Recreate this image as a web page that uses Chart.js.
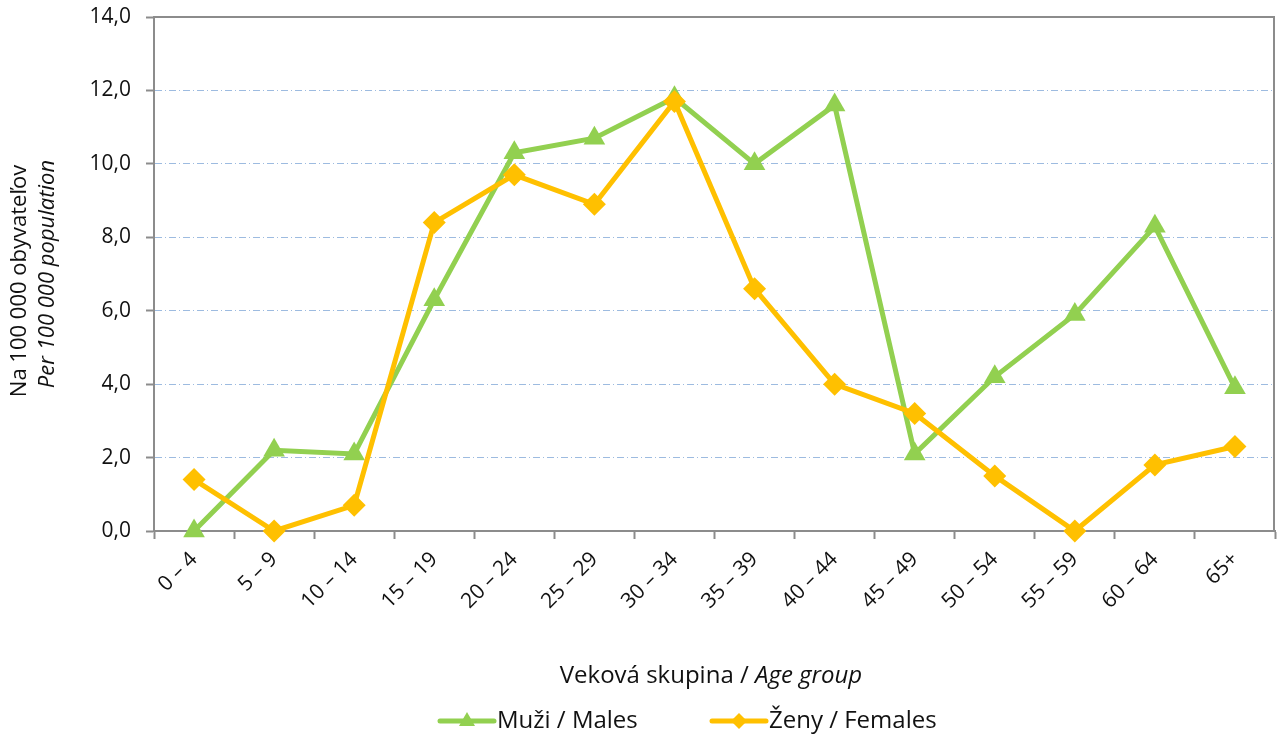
<!DOCTYPE html>
<html lang="sk">
  <head>
    <meta charset="UTF-8" />
    <title>Veková skupina</title>
    <style>
      html,
      body {
        margin: 0;
        padding: 0;
        background: #fff;
      }
      .chart-wrapper {
        position: relative;
        width: 1277px;
        height: 738px;
      }
    </style>
  </head>
  <body>
    <div class="chart-wrapper">
      <canvas id="chartAge"></canvas>
    </div>
    <script src="https://cdn.jsdelivr.net/npm/chart.js"></script>
    <script>
      const ageGroups = [
        "0 – 4", "5 – 9", "10 – 14", "15 – 19", "20 – 24", "25 – 29", "30 – 34",
        "35 – 39", "40 – 44", "45 – 49", "50 – 54", "55 – 59", "60 – 64", "65+",
      ];
      const males = [0.0, 2.2, 2.1, 6.3, 10.3, 10.7, 11.8, 10.0, 11.6, 2.1, 4.2, 5.9, 8.3, 3.9];
      const females = [1.4, 0.0, 0.7, 8.4, 9.7, 8.9, 11.7, 6.6, 4.0, 3.2, 1.5, 0.0, 1.8, 2.3];
      const yTicks = [0, 2, 4, 6, 8, 10, 12, 14];

      const yTitle = [
        [{ text: "Na 100 000 obyvateľov", italic: false }],
        [{ text: "Per 100 000 population", italic: true }],
      ];
      const xTitle = [
        { text: "Veková skupina / ", italic: false },
        { text: "Age group", italic: true },
      ];
      const legendItems = [
        { text: "Muži / Males", color: "#92d050", style: "triangle" },
        { text: "Ženy / Females", color: "#ffc000", style: "rectRot" },
      ];

      const GREEN = "#92d050";
      const YELLOW = "#ffc000";
      const AXIS = "#8c8c8c";
      const GRID = "#9dbbe0";
      const FONT = "'Open Sans', sans-serif";

      Chart.defaults.font.family = FONT;
      Chart.defaults.color = "#111";

      function fontStr(size, italic) {
        return (italic ? "italic " : "") + size + "px " + FONT;
      }

      // draws a line of text made of normal / italic pieces, centred on cx
      function drawParts(ctx, parts, cx, cy, size) {
        let total = 0;
        parts.forEach((p) => {
          ctx.font = fontStr(size, p.italic);
          total += ctx.measureText(p.text).width;
        });
        let x = cx - total / 2;
        ctx.textAlign = "left";
        ctx.textBaseline = "middle";
        parts.forEach((p) => {
          ctx.font = fontStr(size, p.italic);
          ctx.fillText(p.text, x, cy);
          x += ctx.measureText(p.text).width;
        });
      }

      const decor = {
        id: "decor",
        afterDraw(chart) {
          const { ctx, chartArea: a } = chart;
          ctx.save();

          // frame on top and right of the plot area
          ctx.strokeStyle = AXIS;
          ctx.lineWidth = 2;
          ctx.beginPath();
          ctx.moveTo(a.left, a.top);
          ctx.lineTo(a.right - 1, a.top);
          ctx.lineTo(a.right - 1, a.bottom);
          ctx.stroke();

          ctx.fillStyle = "#111";

          // y axis title, two lines
          ctx.save();
          ctx.translate(20, 281);
          ctx.rotate(-Math.PI / 2);
          drawParts(ctx, yTitle[0], 0, 0, 22);
          ctx.restore();
          ctx.save();
          ctx.translate(48, 274);
          ctx.rotate(-Math.PI / 2);
          drawParts(ctx, yTitle[1], 0, 0, 22);
          ctx.restore();

          // x axis title
          drawParts(ctx, xTitle, 711, 676, 24);

          // legend: a short line with the series marker in its middle
          const starts = [440, 712];
          legendItems.forEach((item, i) => {
            const x0 = starts[i];
            const y = 721;
            ctx.strokeStyle = item.color;
            ctx.lineWidth = 5;
            ctx.lineCap = "round";
            ctx.beginPath();
            ctx.moveTo(x0, y);
            ctx.lineTo(x0 + 54, y);
            ctx.stroke();
            ctx.fillStyle = item.color;
            ctx.beginPath();
            if (item.style === "triangle") {
              ctx.moveTo(x0 + 27, y - 9);
              ctx.lineTo(x0 + 35, y + 5);
              ctx.lineTo(x0 + 19, y + 5);
            } else {
              ctx.moveTo(x0 + 27, y - 8);
              ctx.lineTo(x0 + 35, y);
              ctx.lineTo(x0 + 27, y + 8);
              ctx.lineTo(x0 + 19, y);
            }
            ctx.closePath();
            ctx.fill();
            ctx.fillStyle = "#111";
            ctx.font = fontStr(24, false);
            ctx.textAlign = "left";
            ctx.textBaseline = "middle";
            ctx.fillText(item.text, x0 + 57, y);
          });

          ctx.restore();
        },
      };

      new Chart(document.getElementById("chartAge"), {
        type: "line",
        data: {
          labels: ageGroups,
          datasets: [
            {
              label: legendItems[0].text,
              data: males,
              borderColor: GREEN,
              backgroundColor: GREEN,
              borderWidth: 5,
              pointStyle: "triangle",
              pointRadius: 12.5,
              pointBorderWidth: 0,
              pointBackgroundColor: GREEN,
              tension: 0,
              clip: false,
              order: 1,
            },
            {
              label: legendItems[1].text,
              data: females,
              borderColor: YELLOW,
              backgroundColor: YELLOW,
              borderWidth: 5,
              pointStyle: "rectRot",
              pointRadius: 11.5,
              pointBorderWidth: 0,
              pointBackgroundColor: YELLOW,
              tension: 0,
              clip: false,
              order: 0,
            },
          ],
        },
        options: {
          responsive: true,
          maintainAspectRatio: false,
          animation: false,
          layout: {
            autoPadding: false,
            padding: { top: 17, right: 2, left: 0, bottom: 0 },
          },
          scales: {
            x: {
              offset: true,
              afterFit: function (scale) {
                scale.height = 207;
                scale.paddingLeft = 0;
                scale.paddingRight = 0;
              },
              grid: {
                offset: true,
                drawOnChartArea: false,
                drawTicks: true,
                tickLength: 8,
                tickColor: AXIS,
                tickWidth: 2,
              },
              border: {
                color: AXIS,
                width: 2,
              },
              ticks: {
                autoSkip: false,
                minRotation: 45,
                maxRotation: 45,
                padding: 8,
                font: { size: 21 },
              },
            },
            y: {
              min: 0,
              max: 14,
              afterFit: function (scale) {
                scale.width = 154;
                scale.paddingTop = 0;
                scale.paddingBottom = 0;
              },
              afterBuildTicks: function (scale) {
                scale.ticks = yTicks.map((v) => ({ value: v }));
              },
              grid: {
                color: function (c) {
                  if (c.tick && (c.tick.value === 0 || c.tick.value === 14)) {
                    return "rgba(0,0,0,0)";
                  }
                  return GRID;
                },
                lineWidth: 1,
                tickLength: 8,
                tickColor: AXIS,
                tickWidth: 2,
                tickBorderDash: [],
              },
              border: {
                color: AXIS,
                width: 2,
                dash: [7, 3, 1, 3],
              },
              ticks: {
                padding: 15,
                font: { size: 21 },
                callback: function (v) {
                  return v.toFixed(1).replace(".", ",");
                },
              },
            },
          },
          plugins: {
            legend: { display: false },
            tooltip: { enabled: false },
          },
        },
        plugins: [decor],
      });
    </script>
  </body>
</html>
